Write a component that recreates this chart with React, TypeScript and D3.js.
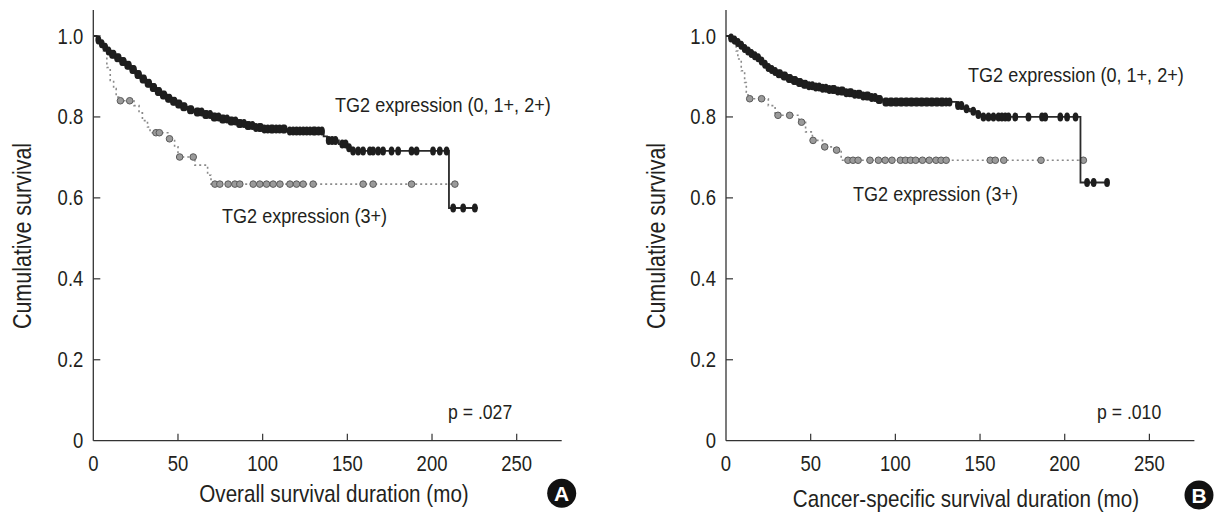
import React from 'react';
import * as d3 from 'd3';

// ---------- DATA ----------
const xTicks = [0, 50, 100, 150, 200, 250];
const yTicks = [0, 0.2, 0.4, 0.6, 0.8, 1.0];
const yTickLabels = ['0', '0.2', '0.4', '0.6', '0.8', '1.0'];

// Panel A – overall survival
const osLowEvents: [number, number][] = [
  [0, 1], [2, 0.99], [4, 0.981], [6, 0.972], [8, 0.963], [10, 0.955], [13, 0.946], [16, 0.937],
  [19, 0.928], [22, 0.917], [25, 0.905], [28, 0.894], [31, 0.883], [34, 0.873], [37, 0.863],
  [40, 0.854], [43, 0.846], [46, 0.839], [49, 0.832], [52, 0.825], [56, 0.818], [60, 0.812],
  [65, 0.806], [70, 0.8], [75, 0.795], [80, 0.79], [85, 0.784], [90, 0.779], [95, 0.774],
  [100, 0.77], [115, 0.765], [136, 0.752], [138, 0.742], [145, 0.733], [150, 0.724],
  [153, 0.716], [210, 0.575],
];
const osLowEnd = 227;
const osLowCensor = [
  3, 5, 7, 9, 11, 12, 14, 15, 17, 18, 20, 21, 23, 24, 26, 27, 29, 30, 32, 33, 35, 36, 38, 39,
  41, 42, 44, 45, 47, 48, 50, 51, 53, 54, 57, 58, 61, 62, 64, 66, 67, 69, 71, 72, 74, 76, 77,
  79, 81, 82, 84, 86, 87, 89, 91, 92, 94, 96, 98, 99, 101, 103, 105, 106, 108, 110, 112, 113,
  116, 118, 120, 122, 124, 126, 128, 130, 131, 133, 135, 139, 141, 143, 147, 149, 151,
  153.4, 156.4, 159.3, 163.3, 165.2, 168.2, 171.1, 176.1, 180, 187.9, 190.9, 200.6, 204.6,
  208.6, 212.5, 218.4, 225.3,
];
const osHighEvents: [number, number][] = [
  [0, 1], [4, 0.98], [6, 0.963], [8, 0.922], [10, 0.89], [12, 0.87], [13.5, 0.849], [15, 0.84],
  [24, 0.828], [27, 0.81], [29, 0.791], [32, 0.775], [33.5, 0.761], [44, 0.746], [48, 0.726],
  [50, 0.701], [60, 0.681], [67.5, 0.656], [69.5, 0.634],
];
const osHighEnd = 213.5;
const osHighCensor = [
  16, 21.5, 37, 39, 45, 51, 59, 71.8, 74.7, 79.6, 83.6, 86.5, 94.4, 98.3, 102.3, 106.2, 110.2,
  116.1, 120, 123.9, 129.8, 159.3, 165.2, 187.9, 213.5,
];

// Panel B – cancer-specific survival
const cssLowEvents: [number, number][] = [
  [0, 1], [2, 0.995], [4, 0.99], [6, 0.984], [8, 0.977], [10, 0.969], [12, 0.963], [14, 0.957],
  [16, 0.951], [18, 0.946], [20, 0.938], [22, 0.93], [24, 0.922], [26, 0.917], [28, 0.912],
  [30, 0.907], [33, 0.901], [36, 0.895], [39, 0.89], [42, 0.885], [45, 0.881], [48, 0.877],
  [52, 0.874], [56, 0.871], [60, 0.868], [65, 0.864], [70, 0.86], [75, 0.856], [80, 0.852],
  [85, 0.848], [89, 0.843], [93, 0.837], [136, 0.828], [140, 0.82], [144, 0.814], [148, 0.806],
  [151, 0.8], [209.3, 0.638],
];
const cssLowEnd = 225.8;
const cssLowCensor = [
  3, 5, 7, 9, 11, 13, 15, 17, 19, 21, 23, 25, 27, 29, 31, 32, 34, 35, 37, 38, 40, 41, 43, 44,
  46, 47, 49, 51, 53, 55, 57, 59, 61, 63, 64, 66, 68, 69, 71, 73, 74, 76, 78, 79, 81, 83, 84,
  86, 88, 90, 91, 94, 95, 97, 98, 100, 101, 103, 104, 106, 107, 109, 110, 112, 113, 115, 116,
  118, 119, 121, 122, 124, 125, 127, 128, 130, 132, 137, 139, 142, 146, 149,
  152, 155, 157.9, 160.9, 162.9, 164.9, 166.8, 170.8, 178.6, 186.6, 188.5, 197.4, 201.4, 206.4,
  213.2, 217.1, 225,
];
const cssHighEvents: [number, number][] = [
  [0, 1], [5, 0.975], [6, 0.963], [7, 0.943], [9, 0.914], [11, 0.885], [12, 0.861], [13, 0.845],
  [25, 0.828], [29, 0.804], [43, 0.787], [47, 0.763], [51, 0.742], [57, 0.726], [64, 0.718],
  [68, 0.693],
];
const cssHighEnd = 212.2;
const cssHighCensor = [
  14, 21, 30.7, 37.6, 44.6, 51.4, 58.3, 65.3, 72, 75, 78, 85, 90, 94, 98, 103, 106, 109, 112,
  116, 120, 124, 127, 130, 156, 159, 164, 186, 211,
];

const seriesLabels = ['TG2 expression (0, 1+, 2+)', 'TG2 expression (3+)'];
const yTitle = 'Cumulative survival';
const xTitles = ['Overall survival duration (mo)', 'Cancer-specific survival duration (mo)'];
const pValues = ['p = .027', 'p = .010'];
const badges = ['A', 'B'];

// ---------- HELPERS ----------
const FONT = "'Liberation Sans', Arial, Helvetica, sans-serif";
const INK = '#231f20';

function CText(props: {
  x: number; y: number; size: number; anchor?: string; rotate?: number;
  weight?: string; fill?: string; sx?: number; children: React.ReactNode;
}) {
  const { x, y, size, anchor = 'start', rotate = 0, weight = 'normal', fill = INK, sx = 0.86 } = props;
  return (
    <text
      transform={`translate(${x},${y}) rotate(${rotate}) scale(${sx},1)`}
      fontSize={size}
      fontFamily={FONT}
      textAnchor={anchor}
      fontWeight={weight}
      fill={fill}
    >
      {props.children}
    </text>
  );
}

function survAt(events: [number, number][], t: number) {
  let s = events[0][1];
  for (const [et, es] of events) {
    if (et <= t) s = es;
    else break;
  }
  return s;
}

type PanelLayout = {
  x0: number; x250: number; axisEnd: number;
  yTitleX: number;
  hiLabel: [number, number]; loLabel: [number, number];
  p: [number, number]; xTitle: [number, number]; badge: [number, number];
};

function Panel(props: {
  layout: PanelLayout;
  low: [number, number][]; lowEnd: number; lowCensor: number[];
  high: [number, number][]; highEnd: number; highCensor: number[];
  xTitle: string; pValue: string; badge: string;
}) {
  const { layout: L } = props;
  const yBottom = 440.7;
  const yTop = 10;
  const x = d3.scaleLinear().domain([0, 250]).range([L.x0, L.x250]);
  const y = d3.scaleLinear().domain([0, 1]).range([yBottom, 36]);
  const line = d3.line<[number, number]>().x(d => x(d[0])).y(d => y(d[1])).curve(d3.curveStepAfter);

  const lowPts: [number, number][] = [...props.low, [props.lowEnd, props.low[props.low.length - 1][1]]];
  const highPts: [number, number][] = [...props.high, [props.highEnd, props.high[props.high.length - 1][1]]];
  const tick = 7;

  return (
    <g>
      {/* axes */}
      <line x1={L.x0} x2={L.x0} y1={yTop} y2={yBottom} stroke="#333" strokeWidth={1.3} />
      <line x1={L.x0} x2={L.axisEnd} y1={yBottom} y2={yBottom} stroke="#333" strokeWidth={1.3} />
      {yTicks.map((v, i) => (
        <g key={'y' + i}>
          {v > 0 && <line x1={L.x0} x2={L.x0 + tick} y1={y(v)} y2={y(v)} stroke="#333" strokeWidth={1.2} />}
          <CText x={L.x0 - 10} y={y(v) + 7.5} size={21.5} anchor="end">{yTickLabels[i]}</CText>
        </g>
      ))}
      {xTicks.map((v, i) => (
        <g key={'x' + i}>
          {v > 0 && <line x1={x(v)} x2={x(v)} y1={yBottom} y2={yBottom - tick} stroke="#333" strokeWidth={1.2} />}
          <CText x={x(v)} y={470.5} size={21.5} anchor="middle">{String(v)}</CText>
        </g>
      ))}
      <CText x={L.yTitleX} y={236} size={25} anchor="middle" rotate={-90}>{yTitle}</CText>
      <CText x={L.xTitle[0]} y={L.xTitle[1]} size={24} anchor="middle">{props.xTitle}</CText>

      {/* high-expression group: dotted gray */}
      <path d={line(highPts) || ''} fill="none" stroke="#8a8a8a" strokeWidth={1.6} strokeDasharray="2,3" />
      {props.highCensor.map((t, i) => (
        <circle key={'hc' + i} cx={x(t)} cy={y(survAt(props.high, t))} r={3.3}
          fill="#9a9a9a" stroke="#5a5a5a" strokeWidth={1} />
      ))}

      {/* low-expression group: solid black */}
      <path d={line(lowPts) || ''} fill="none" stroke="#2a2a2a" strokeWidth={1.8} />
      {props.lowCensor.map((t, i) => (
        <ellipse key={'lc' + i} cx={x(t)} cy={y(survAt(props.low, t))} rx={2.9} ry={4.5} fill="#1e1e1e" />
      ))}

      <CText x={L.hiLabel[0]} y={L.hiLabel[1]} size={21}>{seriesLabels[0]}</CText>
      <CText x={L.loLabel[0]} y={L.loLabel[1]} size={21}>{seriesLabels[1]}</CText>
      <CText x={L.p[0]} y={L.p[1]} size={20.5}>{props.pValue}</CText>

      <circle cx={L.badge[0]} cy={L.badge[1]} r={14.5} fill="#111" />
      <CText x={L.badge[0]} y={L.badge[1] + 7.5} size={21} anchor="middle" weight="bold" fill="#fff" sx={1}>
        {props.badge}
      </CText>
    </g>
  );
}

const layoutA: PanelLayout = {
  x0: 93.3, x250: 516.7, axisEnd: 561.7, yTitleX: 31,
  hiLabel: [335, 112], loLabel: [222, 223], p: [448, 419], xTitle: [334, 502], badge: [561.7, 493.3],
};
const layoutB: PanelLayout = {
  x0: 726, x250: 1149.4, axisEnd: 1194.4, yTitleX: 665,
  hiLabel: [968, 82], loLabel: [853, 201], p: [1097, 419], xTitle: [966, 507], badge: [1199, 495],
};

export default function App() {
  return (
    <svg width={1214} height={516} viewBox="0 0 1214 516"
      style={{ position: 'absolute', left: 0, top: 0, background: '#fff' }}>
      <rect width={1214} height={516} fill="#fff" />
      <Panel layout={layoutA} low={osLowEvents} lowEnd={osLowEnd} lowCensor={osLowCensor}
        high={osHighEvents} highEnd={osHighEnd} highCensor={osHighCensor}
        xTitle={xTitles[0]} pValue={pValues[0]} badge={badges[0]} />
      <Panel layout={layoutB} low={cssLowEvents} lowEnd={cssLowEnd} lowCensor={cssLowCensor}
        high={cssHighEvents} highEnd={cssHighEnd} highCensor={cssHighCensor}
        xTitle={xTitles[1]} pValue={pValues[1]} badge={badges[1]} />
    </svg>
  );
}
